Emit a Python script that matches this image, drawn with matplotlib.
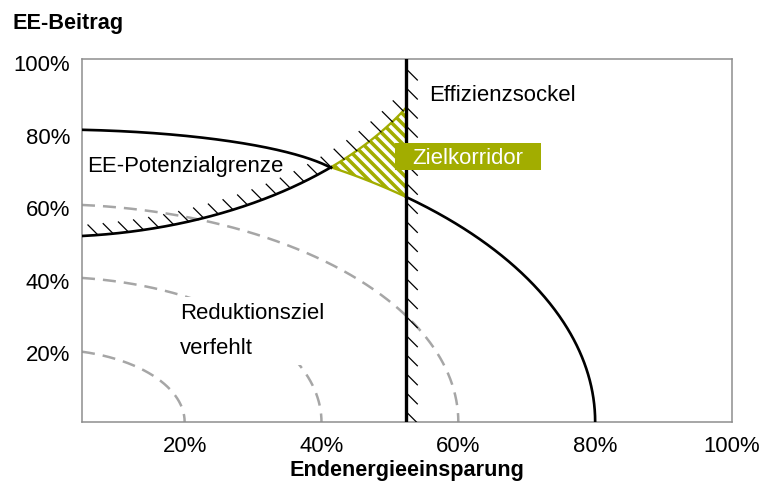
"""
Zielkorridor aus EE-Beitrag und Endenergieeinsparung (schematic).
"""

import matplotlib.pyplot as plt
import numpy as np
from matplotlib.patches import Polygon, Rectangle
from matplotlib.transforms import ScaledTranslation

DPI = 120
OLIVE = "#a2ad00"
GREY = "#a6a6a6"
FS = 13.3

tick_values = [0.2, 0.4, 0.6, 0.8, 1.0]
tick_labels = ["20%", "40%", "60%", "80%", "100%"]

# Reduktionsziel iso-lines, quarter circles around the origin
reduction_radii = [0.2, 0.4, 0.6]

# Effizienzsockel (minimum final energy saving)
efficiency_floor = 0.524

# ellipse arcs: centre x, centre y, half width, half height, +1 upper / -1 lower half
potential_upper = (0.0, 0.646, 0.44, 0.16, 1)
potential_lower = (0.0, 1.205, 0.60, 0.695, -1)
target_line = (0.0, 0.0, 0.80, 0.82, 1)

x_start = 0.05

plt.rcParams["font.family"] = ["Liberation Sans", "DejaVu Sans"]


def arc_y(params, x):
    cx, cy, a, b, side = params
    return cy + side * b * np.sqrt(np.clip(1 - ((x - cx) / a) ** 2, 0, None))


def arc_points(params, x0, x1, n=300):
    cx, cy, a, b, side = params
    t = np.linspace(np.arccos((x0 - cx) / a), np.arccos((x1 - cx) / a), n)
    return cx + a * np.cos(t), cy + side * b * np.sin(t)


def tick_marks(ax, xs, ys, spacing, start, vec):
    pts = ax.transData.transform(np.column_stack([xs, ys]))
    dist = np.concatenate([[0], np.cumsum(np.hypot(*np.diff(pts, axis=0).T))])
    inv = ax.transData.inverted()
    for d in np.arange(start, dist[-1], spacing):
        px = np.interp(d, dist, pts[:, 0])
        py = np.interp(d, dist, pts[:, 1])
        seg = inv.transform([[px + vec[0], py + vec[1]], [px, py]])
        ax.plot(seg[:, 0], seg[:, 1], color="black", lw=0.75, zorder=3)


def stripes(ax, patch, spacing, lw):
    # white "\" stripes clipped to the patch, spacing in pixels
    pts = ax.transData.transform(patch.get_xy())
    x0, y0 = pts.min(axis=0) - 5
    x1, y1 = pts.max(axis=0) + 5
    inv = ax.transData.inverted()
    for c in np.arange(x0 + y0, x1 + y1 + spacing, spacing):
        seg = inv.transform([[x0, c - x0], [x1, c - x1]])
        ln, = ax.plot(seg[:, 0], seg[:, 1], color="white", lw=lw,
                      solid_capstyle="butt", zorder=2.2)
        ln.set_clip_path(patch)


fig = plt.figure(figsize=(759 / DPI, 488 / DPI), dpi=DPI)
ax = fig.add_axes([82 / 759, 1 - 422 / 488, 650 / 759, 363 / 488])
ax.set_xlim(x_start, 1.0)
ax.set_ylim(0, 1.0)

for spine in ax.spines.values():
    spine.set_color("#8c8c8c")
    spine.set_linewidth(0.9)

ax.set_xticks(tick_values, tick_labels)
ax.set_yticks(tick_values, tick_labels)
ax.tick_params(length=0, labelsize=FS)
ax.tick_params(axis="x", pad=8.5)
ax.tick_params(axis="y", pad=7.2)
shift = ScaledTranslation(0, -4 / DPI, fig.dpi_scale_trans)
for lab in ax.get_yticklabels():
    lab.set_transform(lab.get_transform() + shift)

# dashed iso-lines
for r in reduction_radii:
    xs, ys = arc_points((0.0, 0.0, r, r, 1), x_start, r)
    ax.plot(xs, ys, color=GREY, lw=1.5, dashes=(5.2, 3.2), zorder=1)

# vertex where the potential limit meets the target line
grid = np.linspace(0.3, efficiency_floor, 4000)
x_vertex = grid[np.argmin(np.abs(arc_y(potential_lower, grid) - arc_y(target_line, grid)))]

# EE-Potenzialgrenze
xs, ys = arc_points(potential_upper, x_start, x_vertex)
ax.plot(xs, ys, color="black", lw=1.6, zorder=3)
xs, ys = arc_points(potential_lower, x_start, x_vertex)
ax.plot(xs, ys, color="black", lw=1.6, zorder=3)
xs, ys = arc_points(potential_lower, x_start, efficiency_floor)
tick_marks(ax, xs, ys, 15.3, 16, (-10, 10))

# target line right of the efficiency floor
xs, ys = arc_points(target_line, efficiency_floor, target_line[2])
ax.plot(xs, ys, color="black", lw=1.6, zorder=3)

# Zielkorridor triangle
up_x, up_y = arc_points(potential_lower, x_vertex, efficiency_floor, 80)
dn_x, dn_y = arc_points(target_line, efficiency_floor, x_vertex, 80)
corridor = np.column_stack([np.concatenate([up_x, dn_x]), np.concatenate([up_y, dn_y])])
tri = Polygon(corridor, closed=True, facecolor=OLIVE, edgecolor="none", zorder=2)
ax.add_patch(tri)
stripes(ax, tri, 10, 2.1)
ax.add_patch(Polygon(corridor, closed=True, fill=False, edgecolor=OLIVE, lw=1.4,
                     joinstyle="round", zorder=2.5))

# Effizienzsockel
ax.axvline(efficiency_floor, color="black", lw=2.0, zorder=4)
tick_marks(ax, [efficiency_floor, efficiency_floor], [1.0, 0.0], 19.05, 10, (11, -11))

# labels
ax.text(0.058, 0.688, "EE-Potenzialgrenze", fontsize=FS, va="baseline", zorder=5)
ax.text(0.558, 0.884, "Effizienzsockel", fontsize=FS, va="baseline", zorder=5)
ax.text(0.193, 0.329, "Reduktionsziel\nverfehlt", fontsize=FS, va="top",
        linespacing=1.9, zorder=5,
        bbox=dict(boxstyle="square,pad=0.25", facecolor="white", edgecolor="none"))
ax.add_patch(Rectangle((0.508, 0.693), 0.213, 0.0746, facecolor=OLIVE,
                       edgecolor="none", zorder=6))
ax.text(0.533, 0.710, "Zielkorridor", fontsize=FS, color="white", va="baseline", zorder=7)

fig.text(13 / 759, 1 - 29 / 488, "EE-Beitrag", fontsize=13, weight="bold", va="baseline")
fig.text(407 / 759, 1 - 476 / 488, "Endenergieeinsparung", fontsize=13, weight="bold",
         ha="center", va="baseline")

fig.savefig("out.png", dpi=DPI)
